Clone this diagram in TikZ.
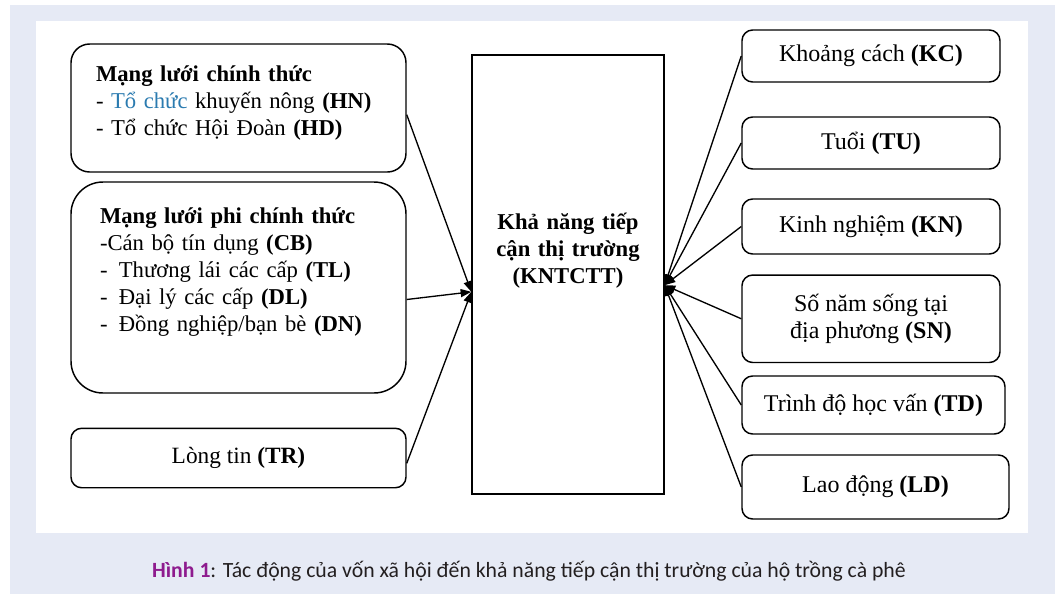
\documentclass[tikz,border=0pt]{standalone}
\usepackage{fontspec}
\setmainfont{Liberation Serif}
\newfontfamily\capfont{Carlito}
\usetikzlibrary{arrows.meta}

\definecolor{pagebg}{HTML}{E6EAF5}
\definecolor{capviolet}{HTML}{8E1B8E}
\definecolor{linkblue}{HTML}{2B7BB0}
\definecolor{captext}{HTML}{231F20}

\tikzset{
  factor/.style  = {draw, line width=1.1pt, rounded corners=8pt, align=center, inner sep=0pt,
                    font=\fontsize{18}{20.3}\selectfont},
  group/.style   = {draw, line width=1.1pt, align=left, inner ysep=0pt, minimum width=251.25pt},
  target/.style  = {draw, line width=1pt, align=center, inner ysep=0pt, inner xsep=10pt, text width=124pt},
  link/.style    = {line width=1pt, -{Triangle[length=8pt,width=6pt]}}
}

\begin{document}
\begin{tikzpicture}[x=0.75pt, y=-0.75pt, font=\fontsize{17}{20.3}\selectfont]
  \useasboundingbox (0,0) rectangle (1058,594);
  \fill[pagebg] (10,5) rectangle (1055,594);
  \fill[white]  (36,21) rectangle (1028,533);

  \node[group, rounded corners=14pt, inner xsep=18.75pt, text width=213.75pt,
        text height=27.75pt, text depth=68.25pt] at (238.5,108) (cth)
        {\textbf{Mạng lưới chính thức}\\
         - \textcolor{linkblue}{Tổ chức} khuyến nông \textbf{(HN)}\\
         - Tổ chức Hội Đoàn \textbf{(HD)}};
  \node[group, rounded corners=24pt, inner xsep=21.75pt, text width=207.75pt,
        text height=30.75pt, text depth=127.5pt] at (238.5,287.5) (pct)
        {\textbf{Mạng lưới phi chính thức}\\
         -Cán bộ tín dụng \textbf{(CB)}\\
         - \,Thương lái các cấp \textbf{(TL)}\\
         - \,Đại lý các cấp \textbf{(DL)}\\
         - \,Đồng nghiệp/bạn bè \textbf{(DN)}};
  \node[factor, font=\fontsize{17.5}{20.3}\selectfont, minimum width=251.25pt, minimum height=44.6pt]
        at (238.5,458) (tr) {Lòng tin \textbf{(TR)}};

  \node[target, text height=130.5pt, text depth=198.75pt] at (568,274.5) (kn)
        {\textbf{Khả năng tiếp cận thị trường (KNTCTT)}};

  \node[factor, minimum width=193.5pt, minimum height=39pt]    at (871,56)     (kc) {Khoảng cách \textbf{(KC)}};
  \node[factor, minimum width=193.5pt, minimum height=39pt]    at (871,143)    (tu) {Tuổi \textbf{(TU)}};
  \node[factor, minimum width=193.5pt, minimum height=41.25pt] at (871,226.5)  (kg) {Kinh nghiệm \textbf{(KN)}};
  \node[factor, minimum width=193.5pt, minimum height=65.6pt]  at (871,318.75) (sn) {Số năm sống tại\\ địa phương \textbf{(SN)}};
  \node[factor, minimum width=197.25pt, minimum height=43.5pt] at (873.5,405)  (td) {Trình độ học vấn \textbf{(TD)}};
  \node[factor, minimum width=200.25pt, minimum height=48pt]   at (875.5,487)  (ld) {Lao động \textbf{(LD)}};

  \coordinate (inl) at ([yshift=-13pt]kn.west);
  \coordinate (inr) at ([yshift=-8pt]kn.east);

  \draw[link] ([yshift=-5pt]cth.east) -- (inl);
  \draw[link] ([yshift=-9pt]pct.east) -- (inl);
  \draw[link] ([yshift=-4pt]tr.east)  -- (inl);
  \foreach \f in {kc, tu, kg, sn, td, ld}
    \draw[link] (\f.west) -- (inr);

  \node[font=\capfont\fontsize{16.3}{19}\selectfont, text=captext] at (529,571) (cap)
        {\textcolor{capviolet}{\textbf{Hình 1}}: Tác động của vốn xã hội đến khả năng tiếp cận thị trường của hộ trồng cà phê};
\end{tikzpicture}
\end{document}
